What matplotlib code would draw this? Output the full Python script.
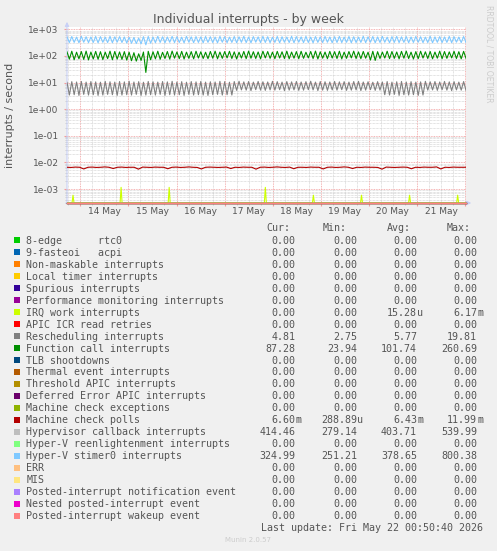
import matplotlib
matplotlib.use('Agg')
import matplotlib.pyplot as plt
import matplotlib.dates as mdates
from matplotlib.patches import Rectangle
from matplotlib.ticker import FixedLocator, NullFormatter
import numpy as np
import pandas as pd

# ---- data ----
t_start = pd.Timestamp('2026-05-13 17:20')
t_end = pd.Timestamp('2026-05-22 00:30')
day_ticks = pd.date_range('2026-05-14', '2026-05-22', freq='D')
day_labels = ['14 May', '15 May', '16 May', '17 May', '18 May', '19 May', '20 May', '21 May']

y_ticks = [1e-3, 1e-2, 1e-1, 1e0, 1e1, 1e2, 1e3]
y_labels = ['1e-03', '1e-02', '1e-01', '1e+00', '1e+01', '1e+02', '1e+03']

# Function call interrupts: peak / trough of each ~2.4h swing
func_peak = [
    142, 150, 138, 146, 152, 140, 148, 144, 139, 151, 147, 141,
    145, 138, 132, 120, 140, 149, 143, 150, 137, 146, 152, 141,
    148, 139, 145, 150, 143, 138, 147, 151, 140, 146, 149, 142,
    138, 147, 152, 144, 141, 150, 146, 139, 148, 143, 151, 140,
    145, 149, 138, 147, 152, 143, 140, 148, 145, 150, 139, 146,
    151, 142, 147, 138, 149, 144, 140, 150, 146, 141, 148, 152,
    139, 145, 150, 143, 147, 140, 151, 146, 142, 149, 144, 148]
func_trough = [
    76, 72, 78, 74, 71, 77, 75, 73, 79, 72, 76, 74,
    70, 66, 64, 68, 24, 72, 78, 75, 80, 76, 82, 79,
    77, 81, 78, 83, 80, 79, 82, 78, 81, 84, 80, 77,
    83, 79, 82, 80, 78, 84, 81, 79, 83, 80, 78, 82,
    79, 81, 84, 80, 77, 82, 79, 83, 80, 78, 81, 84,
    80, 79, 82, 70, 68, 80, 83, 79, 81, 78, 82, 80,
    77, 79, 83, 80, 78, 82, 79, 81, 84, 80, 78, 82]

# Rescheduling interrupts
resched_peak = [
    10.2, 10.8, 10.5, 11.0, 10.4, 10.9, 10.6, 10.3, 11.1, 10.7, 10.4, 10.9,
    10.6, 11.2, 10.5, 10.8, 10.3, 11.0, 10.7, 10.4, 10.9, 10.6, 11.1, 10.5,
    10.8, 10.3, 10.9, 10.6, 11.0, 10.4, 10.7, 10.5, 11.1, 10.8, 10.3, 10.9,
    11.2, 10.6, 10.9, 10.4, 11.0, 10.7, 10.5, 11.1, 10.8, 10.4, 10.9, 10.6,
    11.0, 10.5, 10.8, 11.2, 10.4, 10.9, 10.7, 10.5, 11.0, 10.6, 10.8, 10.4,
    10.9, 11.1, 10.5, 10.7, 10.3, 10.8, 10.5, 10.9, 10.4, 10.7, 11.0, 10.5,
    10.8, 10.4, 10.6, 11.1, 10.7, 10.9, 10.5, 11.0, 10.6, 10.8, 10.4, 10.9]
resched_trough = [
    3.4, 3.5, 3.3, 3.6, 3.4, 3.5, 3.3, 3.4, 3.6, 3.5, 3.3, 3.4,
    3.5, 3.4, 3.6, 3.3, 3.4, 3.5, 3.4, 3.6, 3.3, 3.5, 3.4, 3.5,
    3.3, 3.6, 3.4, 3.5, 3.4, 3.3, 3.5, 3.6, 3.4, 3.5, 3.4, 5.1,
    5.3, 5.2, 5.0, 5.4, 5.2, 5.1, 5.3, 5.2, 5.4, 5.0, 5.2, 5.3,
    5.1, 5.2, 5.4, 5.3, 5.0, 5.2, 5.1, 5.3, 5.2, 5.4, 5.1, 5.2,
    5.3, 5.0, 5.2, 5.4, 5.1, 5.2, 3.5, 3.4, 3.6, 3.3, 3.5, 3.4,
    3.5, 3.3, 3.4, 5.2, 5.3, 5.1, 5.4, 5.2, 5.0, 5.3, 5.2, 5.1]

# Hyper-V stimer0 interrupts
stimer_peak = [
    520, 535, 510, 545, 525, 515, 540, 530, 508, 542, 522, 531,
    515, 505, 495, 470, 528, 537, 512, 546, 523, 516, 540, 529,
    509, 544, 521, 533, 518, 539, 526, 511, 542, 530, 510, 536,
    523, 547, 514, 532, 520, 541, 527, 507, 538, 524, 513, 545,
    531, 519, 543, 510, 534, 522, 540, 516, 529, 544, 512, 537,
    526, 510, 546, 523, 535, 518, 541, 508, 530, 543, 521, 533,
    515, 539, 526, 509, 545, 520, 532, 517, 542, 528, 511, 536]
stimer_trough = [
    318, 322, 312, 326, 315, 320, 310, 324, 317, 313, 328, 319,
    306, 298, 292, 285, 262, 300, 314, 321, 311, 325, 316, 319,
    309, 327, 314, 320, 312, 323, 318, 310, 326, 315, 321, 313,
    324, 317, 311, 328, 316, 320, 314, 322, 310, 325, 318, 312,
    327, 315, 319, 311, 323, 317, 326, 313, 320, 316, 324, 310,
    318, 322, 314, 327, 312, 319, 325, 311, 321, 316, 323, 313,
    320, 326, 315, 318, 311, 324, 317, 322, 313, 328, 316, 319]

# Machine check polls, in milli-interrupts/s
mce_poll = [
    6.6, 6.5, 6.7, 6.6, 5.7, 6.6, 6.7, 6.5, 6.6, 6.8, 6.6, 5.9,
    6.6, 6.7, 6.5, 6.6, 6.6, 5.6, 6.7, 6.6, 6.5, 6.7, 6.6, 6.6,
    5.8, 6.6, 6.7, 6.5, 6.6, 6.8, 6.6, 6.5, 5.7, 6.6, 6.7, 6.6,
    6.5, 6.6, 6.7, 5.9, 6.6, 6.5, 6.7, 6.6, 6.6, 5.6, 6.6, 6.7,
    6.5, 6.6, 6.8, 6.6, 6.5, 6.7, 5.8, 6.6, 6.6, 6.5, 6.7, 6.6,
    6.6, 5.7, 6.6, 6.7, 6.5, 6.6, 6.8, 6.6, 5.9, 6.6, 6.5, 6.7,
    6.6, 6.6, 6.5, 5.6, 6.7, 6.6, 6.5, 6.6, 6.7, 6.6, 5.8, 6.6,
    6.5, 6.7, 6.6, 6.6, 6.8, 5.7, 6.6, 6.5, 6.7, 6.6, 6.6, 6.6]

# IRQ work interrupts: short daily bursts (milli-interrupts/s)
irq_times = ['2026-05-13 20:20', '2026-05-14 20:20', '2026-05-15 20:20', '2026-05-17 20:20',
             '2026-05-18 20:20', '2026-05-19 20:20', '2026-05-20 20:20', '2026-05-21 20:20']
irq_heights = [0.59, 1.16, 1.16, 1.16, 0.59, 0.59, 0.59, 0.59]

# legend table
names = ['8-edge      rtc0', '9-fasteoi   acpi', 'Non-maskable interrupts', 'Local timer interrupts',
         'Spurious interrupts', 'Performance monitoring interrupts', 'IRQ work interrupts',
         'APIC ICR read retries', 'Rescheduling interrupts', 'Function call interrupts',
         'TLB shootdowns', 'Thermal event interrupts', 'Threshold APIC interrupts',
         'Deferred Error APIC interrupts', 'Machine check exceptions', 'Machine check polls',
         'Hypervisor callback interrupts', 'Hyper-V reenlightenment interrupts',
         'Hyper-V stimer0 interrupts', 'ERR', 'MIS', 'Posted-interrupt notification event',
         'Nested posted-interrupt event', 'Posted-interrupt wakeup event']
colors = ['#00CC00', '#0066B3', '#FF8000', '#FFCC00', '#330099', '#990099', '#CCFF00', '#FF0000',
          '#808080', '#008F00', '#00487D', '#B35A00', '#B38F00', '#6B006B', '#8FB300', '#B30000',
          '#BEBEBE', '#80FF80', '#80C9FF', '#FFC080', '#FFE680', '#AA80FF', '#EE00CC', '#FF8080']
cur = ['0.00', '0.00', '0.00', '0.00', '0.00', '0.00', '0.00', '0.00', '4.81', '87.28', '0.00', '0.00',
       '0.00', '0.00', '0.00', '6.60m', '414.46', '0.00', '324.99', '0.00', '0.00', '0.00', '0.00', '0.00']
mins = ['0.00', '0.00', '0.00', '0.00', '0.00', '0.00', '0.00', '0.00', '2.75', '23.94', '0.00', '0.00',
        '0.00', '0.00', '0.00', '288.89u', '279.14', '0.00', '251.21', '0.00', '0.00', '0.00', '0.00', '0.00']
avgs = ['0.00', '0.00', '0.00', '0.00', '0.00', '0.00', '15.28u', '0.00', '5.77', '101.74', '0.00', '0.00',
        '0.00', '0.00', '0.00', '6.43m', '403.71', '0.00', '378.65', '0.00', '0.00', '0.00', '0.00', '0.00']
maxs = ['0.00', '0.00', '0.00', '0.00', '0.00', '0.00', '6.17m', '0.00', '19.81', '260.69', '0.00', '0.00',
        '0.00', '0.00', '0.00', '11.99m', '539.99', '0.00', '800.38', '0.00', '0.00', '0.00', '0.00', '0.00']

# ---- figure ----
W, H = 497, 551
TXT = '#555555'
fig = plt.figure(figsize=(W / 100, H / 100), dpi=100, facecolor='#F0F0F0')

# plot area in pixels: x 67..466, y 27..203
ax = fig.add_axes([67 / W, 1 - 203 / H, 399 / W, 176 / H], zorder=2)
ax.set_facecolor('white')
ax.set_yscale('log')
y_lo, y_hi = 3.0e-4, 1.22e3
x0 = mdates.date2num(t_start.to_pydatetime())
x1 = mdates.date2num(t_end.to_pydatetime())
ax.set_xlim(x0, x1)
ax.set_ylim(y_lo, y_hi)


def swing(peaks, troughs):
    v = np.empty(2 * len(peaks))
    v[0::2] = peaks
    v[1::2] = troughs
    return v


irq_x, irq_y = [], []
for t, h in zip(irq_times, irq_heights):
    c = mdates.date2num(pd.Timestamp(t).to_pydatetime())
    irq_x += [c - 0.5 / 24, c, c + 0.5 / 24]
    irq_y += [0, h * 1e-3, 0]

series = {
    'IRQ work interrupts': (np.array([x0] + irq_x + [x1]), np.array([0] + irq_y + [0])),
    'Rescheduling interrupts': (None, swing(resched_peak, resched_trough)),
    'Function call interrupts': (None, swing(func_peak, func_trough)),
    'Machine check polls': (None, np.array(mce_poll) * 1e-3),
    'Hyper-V stimer0 interrupts': (None, swing(stimer_peak, stimer_trough)),
}

for name, col in zip(names, colors):
    if name in series:
        xs, ys = series[name]
        if xs is None:
            xs = np.linspace(x0, x1, len(ys))
    else:
        xs, ys = np.array([x0, x1]), np.zeros(2)
    ys = np.where(ys > 0, ys, y_lo)  # rrdtool puts zero at the bottom edge
    ax.plot(xs, ys, color=col, lw=0.8, zorder=3, clip_on=(name in series))

# grid
ax.xaxis.set_major_locator(FixedLocator(mdates.date2num(day_ticks.to_pydatetime())))
ax.xaxis.set_minor_locator(mdates.HourLocator(byhour=[0, 6, 12, 18]))
ax.xaxis.set_major_formatter(NullFormatter())
ax.yaxis.set_major_locator(FixedLocator(y_ticks))
ax.yaxis.set_minor_locator(FixedLocator([m * 10.0 ** e for e in range(-4, 4) for m in range(2, 10)]))
ax.yaxis.set_minor_formatter(NullFormatter())
ax.set_yticklabels(y_labels)
ax.grid(which='major', color='#F29B9B', ls=(0, (1, 1)), lw=0.6)
ax.grid(which='minor', color='#C8C8C8', ls=(0, (1, 1)), lw=0.5)
ax.set_axisbelow(True)
ax.tick_params(which='major', length=2, color='#F29B9B', labelsize=6.5, labelcolor=TXT, pad=4)
ax.tick_params(which='minor', length=1.5, color='#C8C8C8')
for s in ax.spines.values():
    s.set_visible(False)

# axis arrows
arrow = dict(arrowstyle='-|>', color='#C8D0F6', lw=0.8, mutation_scale=6)
ax.annotate('', xy=(0, 1.045), xytext=(0, -0.02), xycoords='axes fraction', arrowprops=arrow, zorder=1)
ax.annotate('', xy=(1.02, 0), xytext=(-0.01, 0), xycoords='axes fraction', arrowprops=arrow, zorder=1)

# day labels at noon
for d, lab in zip(day_ticks, day_labels):
    xc = mdates.date2num((d + pd.Timedelta(hours=12)).to_pydatetime())
    ax.text(xc, -9 / 176, lab, transform=ax.get_xaxis_transform(), ha='center', va='center',
            fontsize=6.5, color=TXT)

# text overlay in pixel coordinates
ov = fig.add_axes([0, 0, 1, 1], zorder=1)
ov.set_xlim(0, W)
ov.set_ylim(H, 0)
ov.axis('off')

ov.text(248, 19.3, 'Individual interrupts - by week', ha='center', va='center', fontsize=9, color=TXT)
ov.text(10, 115, 'interrupts / second', ha='center', va='center', rotation=90, fontsize=8, color=TXT)
ov.text(489, 5, 'RRDTOOL / TOBI OETIKER', ha='center', va='top', rotation=270, fontsize=5.5, color='#CCCCCC')
ov.text(248, 540, 'Munin 2.0.57', ha='center', va='center', fontsize=5, color='#CCCCCC')

mono = dict(family='DejaVu Sans Mono', fontsize=7.2, color=TXT, va='baseline')
row0, dy, base = 240.0, 11.99, 3.6
for hx, h in zip([266.7, 322.7, 386.7, 446.7], ['Cur:', 'Min:', 'Avg:', 'Max:']):
    ov.text(hx, 227.5 + base, h, ha='left', **mono)

col_end = [295.5, 357, 417, 477]
for i, (name, col) in enumerate(zip(names, colors)):
    y = row0 + i * dy
    ov.add_patch(Rectangle((14, y - 3), 6, 6, facecolor=col, edgecolor='none'))
    ov.text(26.3, y + base, name, ha='left', **mono)
    for xe, v in zip(col_end, (cur[i], mins[i], avgs[i], maxs[i])):
        num, unit = (v[:-1], v[-1]) if v[-1].isalpha() else (v, '')
        ov.text(xe, y + base, num, ha='right', **mono)
        if unit:
            ov.text(xe, y + base, unit, ha='left', **mono)

ov.text(483, 527.5 + base, 'Last update: Fri May 22 00:50:40 2026', ha='right', **mono)

fig.savefig('out.png', dpi=100, facecolor=fig.get_facecolor())
